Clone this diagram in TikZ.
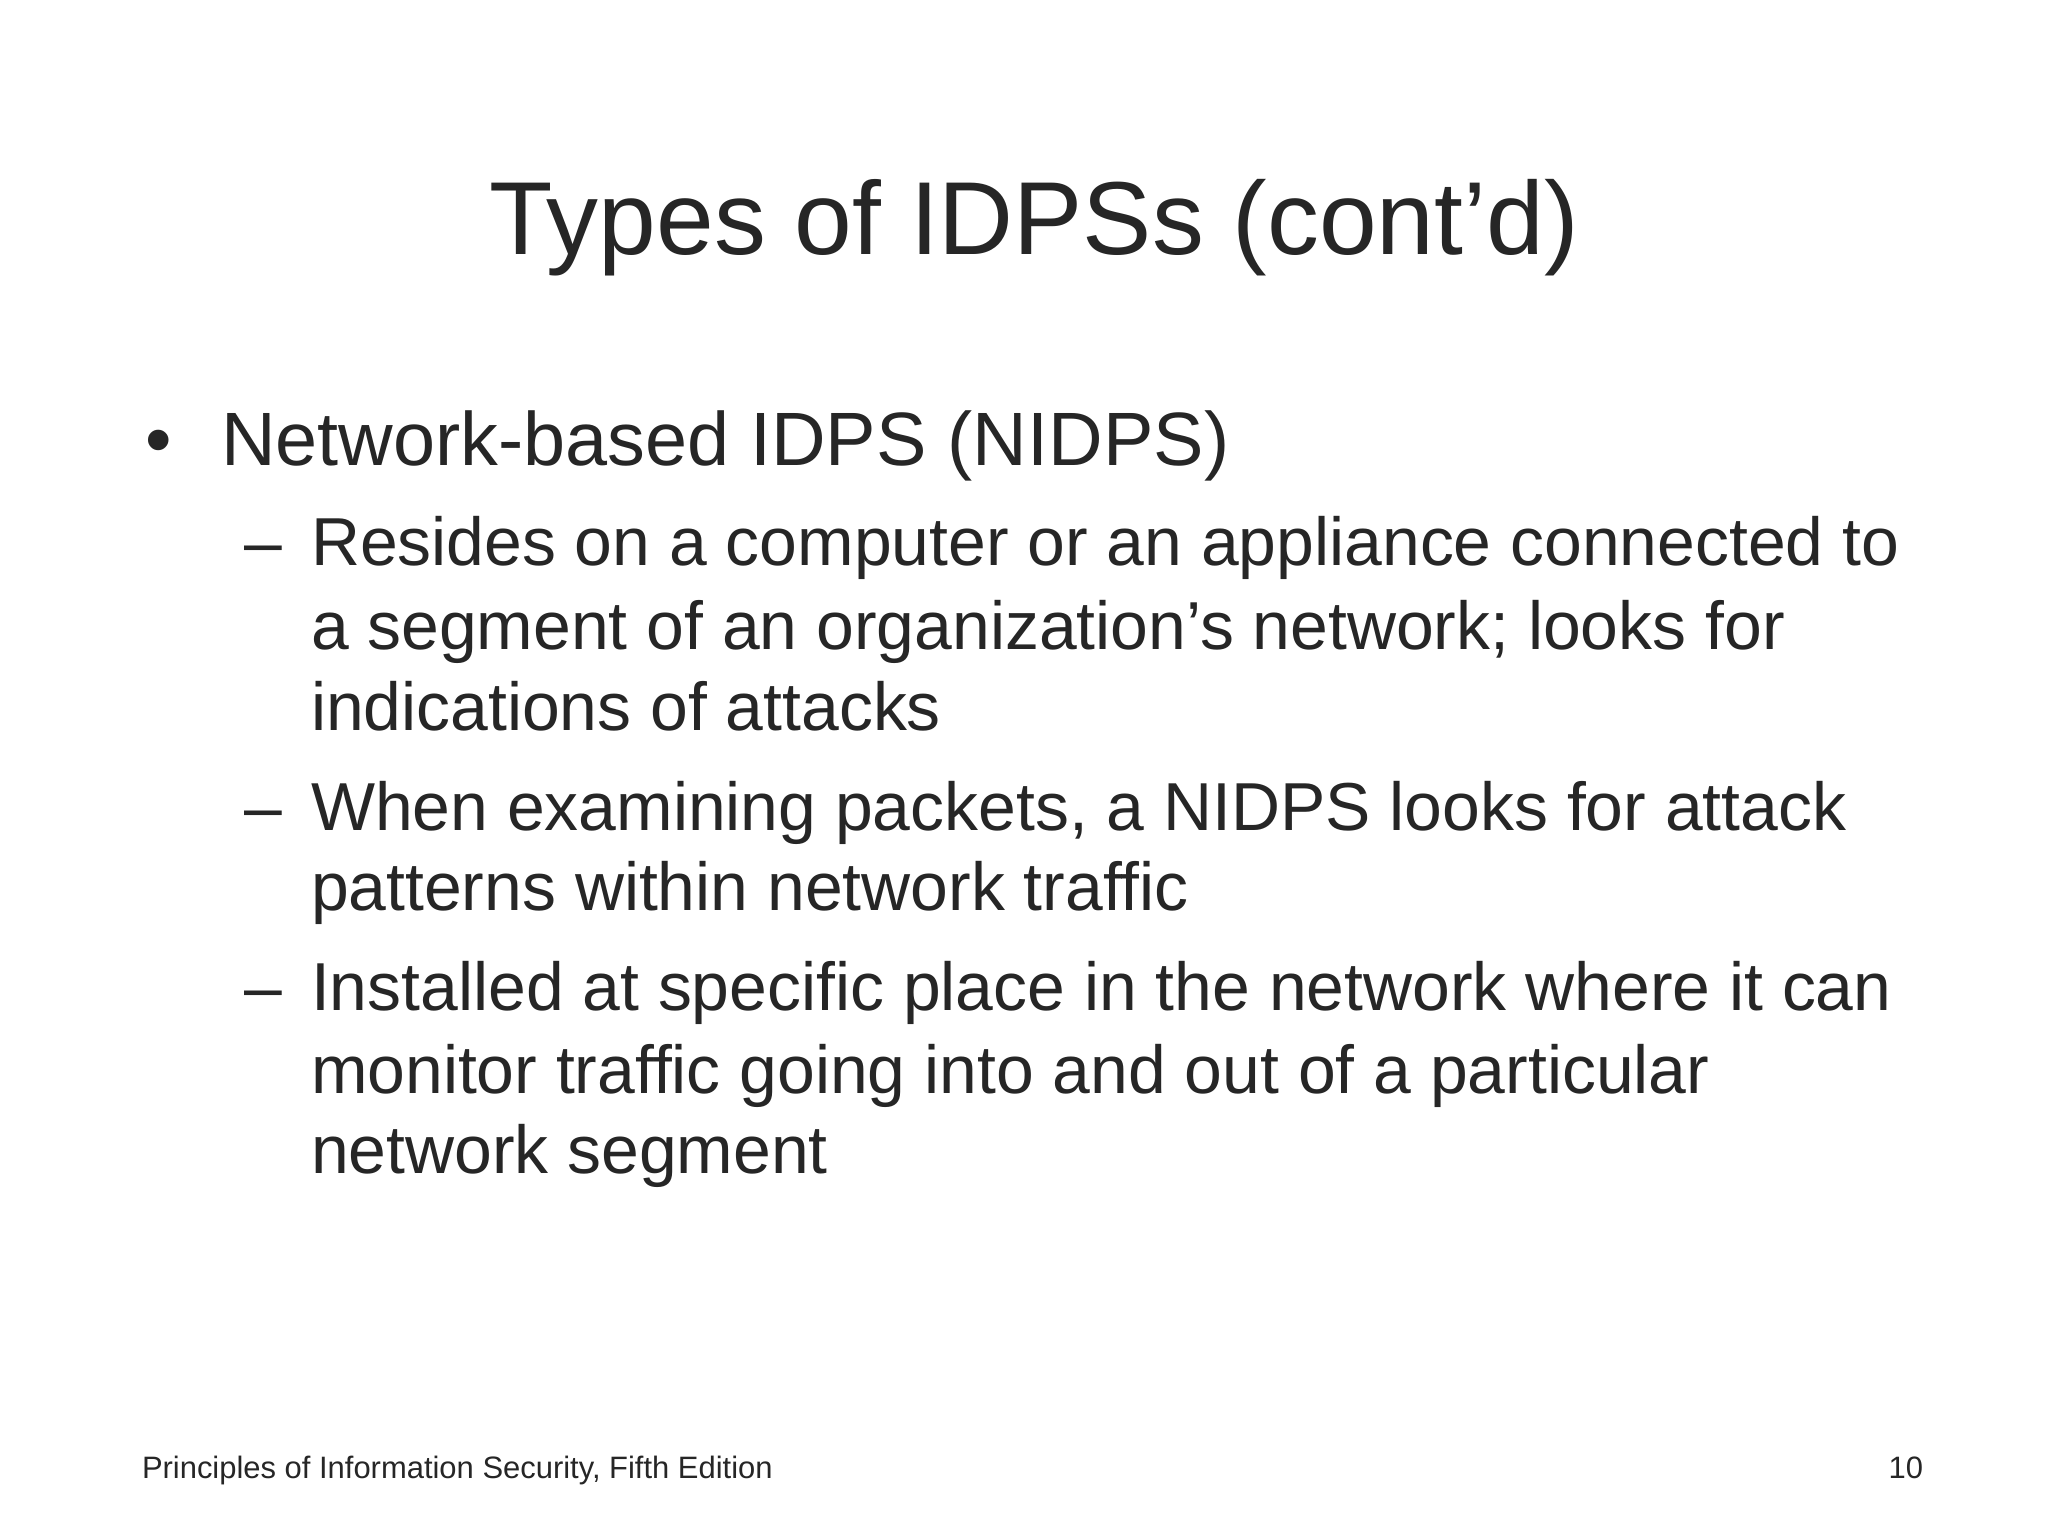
\documentclass[tikz,border=0pt]{standalone}
\usepackage{fontspec}
\setmainfont{Liberation Sans}
\definecolor{txt}{HTML}{262626}
\begin{document}
\begin{tikzpicture}[x=0.01cm,y=-0.01cm,
  every node/.style={inner sep=0pt,outer sep=0pt,text=txt},
  lvlone/.style={anchor=base west,font=\fontsize{21.5}{24}\selectfont},
  lvltwo/.style={anchor=base west,font=\fontsize{19.3}{23}\selectfont},
  foot/.style={font=\fontsize{8.8}{10}\selectfont}]
\useasboundingbox[fill=white] (0,0) rectangle (2048,1536);
\node[anchor=base,font=\fontsize{29.5}{34}\selectfont] (title) at (1034,254) {Types of IDPSs (cont’d)};
\node[lvlone] (b1) at (145,465) {•};
\node[lvlone] (t1) at (221,465) {Network-based IDPS (NIDPS)};
\node[lvltwo] (d1) at (244,565) {–};
\node[lvltwo] (l1) at (311,565) {Resides on a computer or an appliance connected to};
\node[lvltwo] (l2) at (311,649) {a segment of an organization’s network; looks for};
\node[lvltwo] (l3) at (311,730) {indications of attacks};
\node[lvltwo] (d2) at (244,830) {–};
\node[lvltwo] (l4) at (311,830) {When examining packets, a NIDPS looks for attack};
\node[lvltwo] (l5) at (311,910) {patterns within network traffic};
\node[lvltwo] (d3) at (244,1010) {–};
\node[lvltwo] (l6) at (311,1010) {Installed at specific place in the network where it can};
\node[lvltwo] (l7) at (311,1093) {monitor traffic going into and out of a particular};
\node[lvltwo] (l8) at (311,1173) {network segment};
\node[foot,anchor=base west] (f1) at (142,1478) {Principles of Information Security, Fifth Edition};
\node[foot,anchor=base east] (f2) at (1923,1478) {10};
\end{tikzpicture}
\end{document}
